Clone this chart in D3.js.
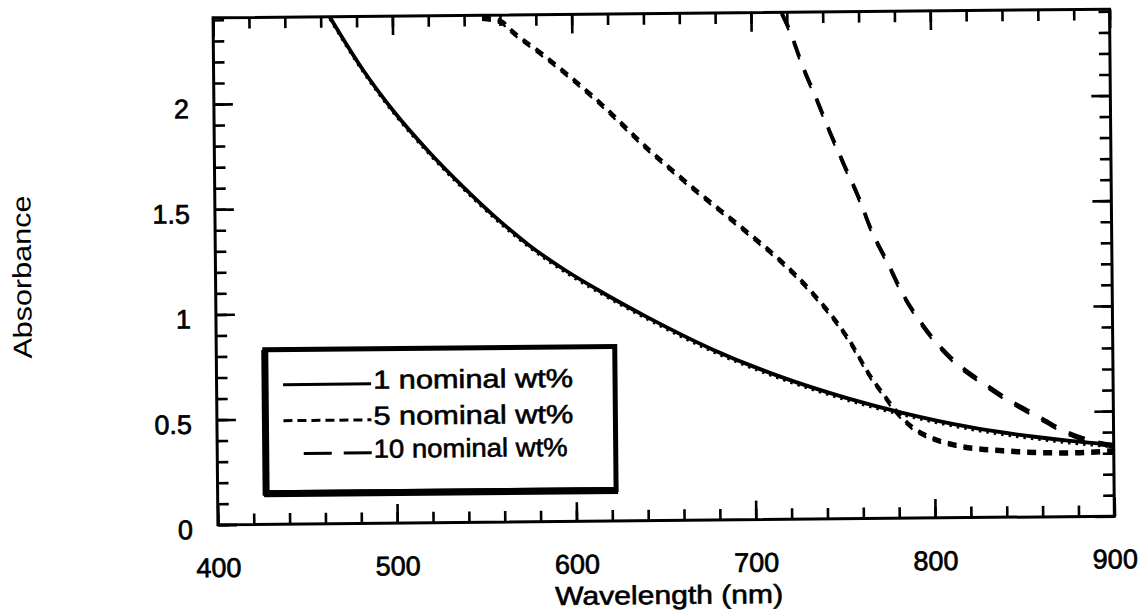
<!DOCTYPE html>
<html>
	<head>
		<meta charset="utf-8">
		<title>Absorbance vs Wavelength</title>
		<script src="https://d3js.org/d3.v7.min.js"></script>
		<style>
			body { margin: 0; background: #fff; }
			text { font-family: "Liberation Sans", Arial, sans-serif; fill: #000; }
		</style>
	</head>
	<body>
		<svg id="chart" width="1147" height="610"></svg>

		<script>
			// values
			var wl_1 = [465, 483, 500, 520, 538, 557, 575, 594, 613, 640, 677, 714, 751, 783, 820, 857, 876, 900];
			var abs_1 = [2.41, 2.16, 1.96, 1.76, 1.60, 1.445, 1.315, 1.20, 1.10, 0.97, 0.81, 0.68, 0.575, 0.50, 0.43, 0.38, 0.36, 0.34];

			var wl_5 = [550, 561, 566, 584, 612, 643, 667, 697, 715, 733, 752, 766, 772, 777, 788, 798, 813, 838, 876, 900];
			var abs_5 = [2.40, 2.38, 2.34, 2.22, 2.016, 1.76, 1.58, 1.367, 1.233, 1.075, 0.864, 0.66, 0.59, 0.53, 0.433, 0.385, 0.346, 0.32, 0.307, 0.315];

			var wl_10 = [717, 721, 729, 736, 743, 750.5, 759, 766, 775, 783, 791.5, 802, 813, 827, 842, 857, 874, 891, 900];
			var abs_10 = [2.41, 2.335, 2.144, 2.0, 1.848, 1.696, 1.529, 1.371, 1.214, 1.07, 0.951, 0.831, 0.735, 0.644, 0.557, 0.484, 0.402, 0.353, 0.338];

			var legend_labels = ["1 nominal wt%", "5 nominal wt%", "10 nominal wt%"];
			var x_ticks = [400, 500, 600, 700, 800, 900];
			var y_ticks = [0, 0.5, 1, 1.5, 2];

			var p_left = 215.5, p_right = 1112, p_top = 13.5, p_bottom = 520.5;

			var svg = d3.select("#chart");
			// the scan is slightly tilted
			var g = svg.append("g").attr("transform", "rotate(-0.55, 665, 270)");

			var x = d3.scaleLinear().domain([400, 900]).range([p_left, p_right]);
			var y = d3.scaleLinear().domain([0, 2.41]).range([p_bottom, p_top]);

			var minor_x = d3.range(400, 901, 20);
			var minor_y = d3.range(0, 2.41, 0.1).map(d => +d.toFixed(1));

			function style_axis(sel) {
				sel.select(".domain").remove();
				sel.selectAll("line").attr("stroke", "#000").attr("stroke-width", 2.6);
				sel.selectAll("text").attr("font-size", 27).attr("fill", "#000")
					.attr("font-family", "Liberation Sans, Arial, sans-serif")
					.attr("stroke", "#000").attr("stroke-width", 0.7);
			}

			// minor ticks all round
			g.append("g").attr("transform", "translate(0," + p_bottom + ")")
				.call(d3.axisBottom(x).tickValues(minor_x).tickSizeInner(-11).tickSizeOuter(0).tickFormat(""))
				.call(style_axis);
			g.append("g").attr("transform", "translate(0," + p_top + ")")
				.call(d3.axisTop(x).tickValues(minor_x).tickSizeInner(-11).tickSizeOuter(0).tickFormat(""))
				.call(style_axis);
			g.append("g").attr("transform", "translate(" + p_left + ",0)")
				.call(d3.axisLeft(y).tickValues(minor_y).tickSizeInner(-11).tickSizeOuter(0).tickFormat(""))
				.call(style_axis);
			g.append("g").attr("transform", "translate(" + p_right + ",0)")
				.call(d3.axisRight(y).tickValues(minor_y).tickSizeInner(-11).tickSizeOuter(0).tickFormat(""))
				.call(style_axis);

			// major ticks with labels
			g.append("g").attr("transform", "translate(0," + p_bottom + ")")
				.call(d3.axisBottom(x).tickValues(x_ticks).tickSizeInner(-19).tickSizeOuter(0).tickPadding(33).tickFormat(d => d))
				.call(style_axis);
			g.append("g").attr("transform", "translate(0," + p_top + ")")
				.call(d3.axisTop(x).tickValues(x_ticks).tickSizeInner(-19).tickSizeOuter(0).tickFormat(""))
				.call(style_axis);
			var yl = g.append("g").attr("transform", "translate(" + p_left + ",0)")
				.call(d3.axisLeft(y).tickValues(y_ticks).tickSizeInner(-19).tickSizeOuter(0).tickPadding(25).tickFormat(d => d))
				.call(style_axis);
			yl.selectAll("text").attr("dy", "0.5em");
			g.append("g").attr("transform", "translate(" + p_right + ",0)")
				.call(d3.axisRight(y).tickValues(y_ticks).tickSizeInner(-19).tickSizeOuter(0).tickFormat(""))
				.call(style_axis);

			// frame
			g.append("rect")
				.attr("x", p_left).attr("y", p_top)
				.attr("width", p_right - p_left).attr("height", p_bottom - p_top)
				.attr("fill", "none").attr("stroke", "#000").attr("stroke-width", 3);

			g.append("clipPath").attr("id", "plot-clip")
				.append("rect").attr("x", p_left).attr("y", p_top - 2)
				.attr("width", p_right - p_left).attr("height", p_bottom - p_top + 2);

			var line = d3.line()
				.x(d => x(d[0]))
				.y(d => y(d[1]))
				.curve(d3.curveMonotoneX);

			var series = [
				{ wl: wl_1, abs: abs_1, dash: null },
				{ wl: wl_5, abs: abs_5, dash: "9,7" },
				{ wl: wl_10, abs: abs_10, dash: "17,14" }
			];

			var lines = g.append("g").attr("clip-path", "url(#plot-clip)");
			series.forEach(function(s) {
				var pts = s.wl.map((w, i) => [w, s.abs[i]]);
				lines.append("path")
					.attr("d", line(pts))
					.attr("fill", "none")
					.attr("stroke", "#000")
					.attr("stroke-width", 3.8)
					.attr("stroke-dasharray", s.dash);
				// small teeth under the trace, like the plotter marks
				lines.append("path")
					.attr("d", line(pts))
					.attr("transform", "translate(0,2.5)")
					.attr("fill", "none")
					.attr("stroke", "#000")
					.attr("stroke-width", 2.2)
					.attr("stroke-dasharray", s.dash ? s.dash : "2.5,5");
			});

			// legend
			var lg = g.append("g");
			lg.append("rect")
				.attr("x", 264).attr("y", 346)
				.attr("width", 350).attr("height", 143)
				.attr("fill", "#fff").attr("stroke", "#000").attr("stroke-width", 5);
			lg.append("line")
				.attr("x1", 262).attr("x2", 616).attr("y1", 490).attr("y2", 490)
				.attr("stroke", "#000").attr("stroke-width", 7);
			lg.append("line")
				.attr("x1", 264).attr("x2", 264).attr("y1", 346).attr("y2", 492)
				.attr("stroke", "#000").attr("stroke-width", 7);

			var legend_dash = [null, "9,5", "28,12"];
			var legend_x1 = [282, 282, 302];
			var legend_base = [386, 422, 455];
			var legend_len = [200, 200, 194];
			legend_labels.forEach(function(t, i) {
				lg.append("line")
					.attr("x1", legend_x1[i]).attr("x2", 370)
					.attr("y1", legend_base[i] - 5).attr("y2", legend_base[i] - 5)
					.attr("stroke", "#000").attr("stroke-width", 3)
					.attr("stroke-dasharray", legend_dash[i]);
				lg.append("text")
					.attr("x", 372).attr("y", legend_base[i])
					.attr("font-size", 26)
					.attr("stroke", "#000").attr("stroke-width", 0.6)
					.attr("textLength", legend_len[i])
					.attr("lengthAdjust", "spacingAndGlyphs")
					.text(t);
			});

			// axis titles
			g.append("text")
				.attr("x", 666).attr("y", 604)
				.attr("text-anchor", "middle")
				.attr("font-size", 26)
				.attr("stroke", "#000").attr("stroke-width", 0.6)
				.attr("textLength", 228)
				.attr("lengthAdjust", "spacingAndGlyphs")
				.text("Wavelength (nm)");

			g.append("text")
				.attr("transform", "translate(31,271) rotate(-90)")
				.attr("text-anchor", "middle")
				.attr("font-size", 26)
				.attr("textLength", 163)
				.attr("lengthAdjust", "spacingAndGlyphs")
				.text("Absorbance");
		</script>
	</body>
</html>
